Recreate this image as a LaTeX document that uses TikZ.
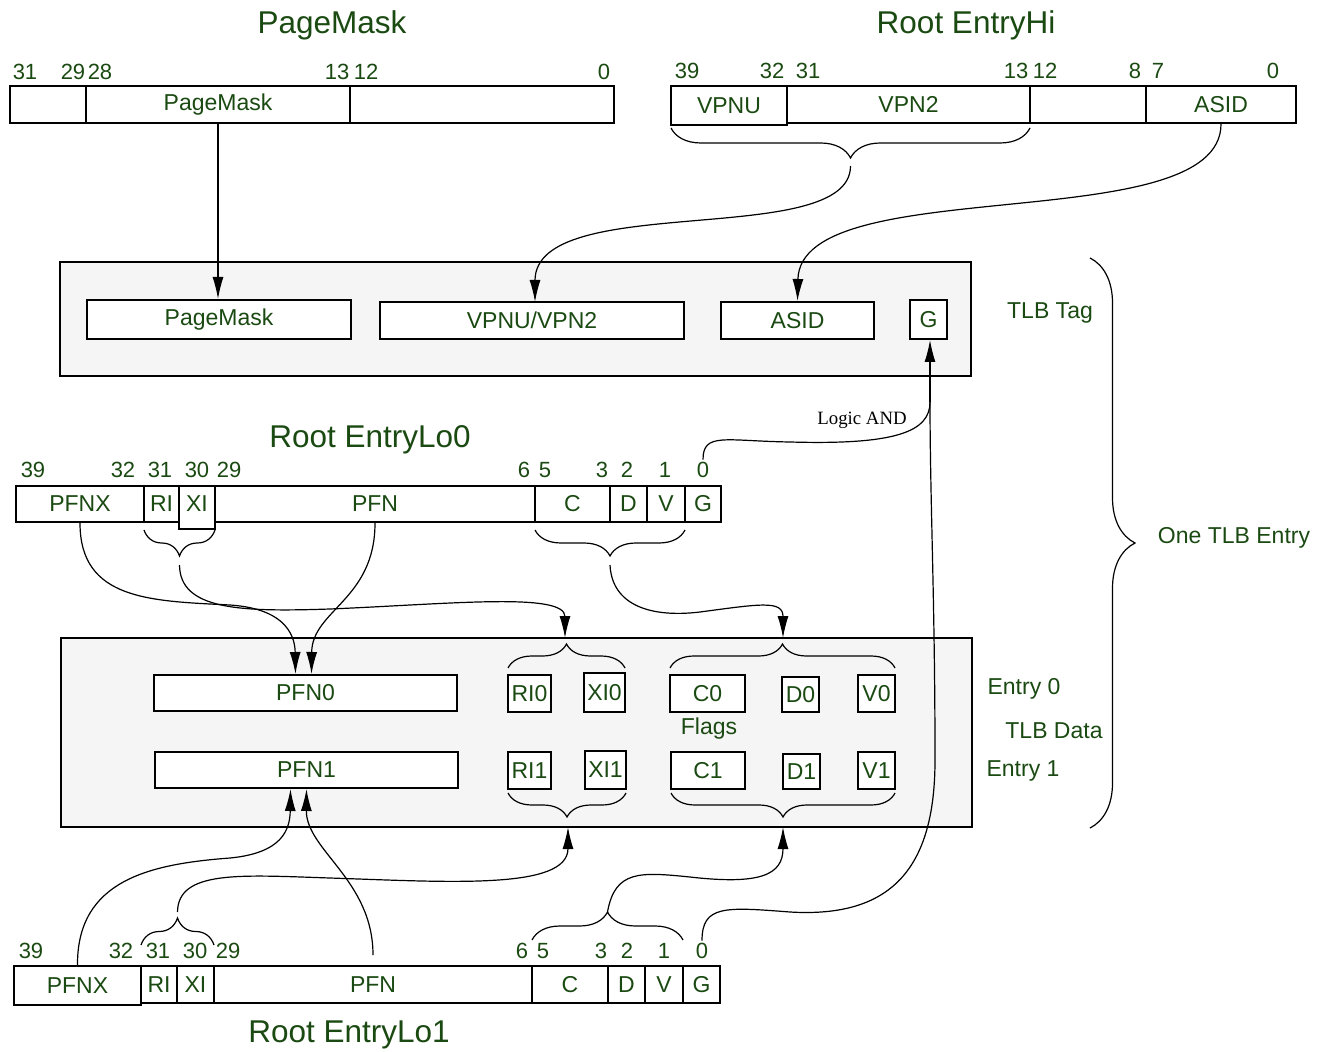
\documentclass[tikz,border=0pt]{standalone}
\usepackage{fontspec}
\setmainfont{Liberation Sans}
\newfontfamily\logicfont{Liberation Serif}
\usepackage{xcolor}
\usepackage{tikz}
\usetikzlibrary{arrows.meta,calc,decorations.pathreplacing}
\definecolor{RegGreen}{HTML}{1A4A12}
\definecolor{PanelGray}{HTML}{F5F5F5}
\newcommand{\labfont}{\fontsize{11.5}{13}\selectfont}
\newcommand{\bitfont}{\fontsize{11}{13}\selectfont}
\newcommand{\titlefont}{\fontsize{15.75}{18}\selectfont}
\tikzset{
  every picture/.style={line width=0.6pt},
  regbox/.style={
    draw=black,
    line width=1pt,
    fill=white,
    inner sep=0pt,
    font=\labfont,
    text=RegGreen
  },
  panel/.style={draw=black, line width=1pt, fill=PanelGray, inner sep=0pt},
  bitlab/.style={font=\bitfont, text=RegGreen, inner sep=1pt},
  sidelab/.style={font=\labfont, text=RegGreen, inner sep=1pt},
  regtitle/.style={font=\titlefont, text=RegGreen, inner sep=1pt},
  logiclab/.style={font=\logicfont\fontsize{9.4}{11}\selectfont, inner sep=1pt},
  curly/.style={decorate, decoration={brace, amplitude=#1}},
  flowarrow/.style={-{Latex[length=11pt,width=5.5pt]}, draw=black},
  flowline/.style={draw=black}
}

\begin{document}
\begin{tikzpicture}[x=0.5pt,y=-0.5pt]
  \useasboundingbox (0,0) rectangle (1325,1052);

  % PageMask register
  \node[regtitle] (pmTitle) at (332,25) {PageMask};
  \foreach \nm/\xa/\ya/\xb/\yb/\txt in {pmHigh/10/86/86/123/{}, pmMask/86/86/350/123/PageMask, pmLow/350/86/614/123/{}}
    \node[regbox, minimum width={(\xb-\xa)*0.5pt}, minimum height={(\yb-\ya)*0.5pt}] (\nm) at ({(\xa+\xb)/2},{(\ya+\yb)/2}) {\txt};
  \foreach \x/\b in {25/31, 73/29, 100/28, 337/13, 366/12, 604/0}
    \node[bitlab] (pmb\b) at (\x,72) {\b};

  % Root EntryHi register
  \node[regtitle] (hiTitle) at (966,25) {Root EntryHi};
  \foreach \nm/\xa/\ya/\xb/\yb/\txt in {hiVpnu/671/86/787/125/VPNU, hiVpn/787/86/1030/123/VPN2, hiGap/1030/86/1146/123/{}, hiAsid/1146/86/1296/123/ASID}
    \node[regbox, minimum width={(\xb-\xa)*0.5pt}, minimum height={(\yb-\ya)*0.5pt}] (\nm) at ({(\xa+\xb)/2},{(\ya+\yb)/2}) {\txt};
  \foreach \x/\b in {687/39, 772/32, 808/31, 1016/13, 1045/12, 1135/8, 1158/7, 1273/0}
    \node[bitlab] (hib\b) at (\x,71) {\b};

  % TLB tag
  \node[panel, minimum width=455.5pt, minimum height=57pt] (tagPanel) at (515.5,319) {};
  \foreach \nm/\xa/\ya/\xb/\yb/\txt in {tagMask/87/300/351/339/PageMask, tagVpn/380/302/684/339/{VPNU/VPN2}, tagAsid/721/302/874/339/ASID, tagG/910/300/947/339/G}
    \node[regbox, minimum width={(\xb-\xa)*0.5pt}, minimum height={(\yb-\ya)*0.5pt}] (\nm) at ({(\xa+\xb)/2},{(\ya+\yb)/2}) {\txt};

  % Root EntryLo0 register
  \node[regtitle] (lo0Title) at (370,440) {Root EntryLo0};
  \foreach \nm/\xa/\ya/\xb/\yb/\txt in {lo0Pfnx/16/486/144/522/PFNX, lo0Ri/144/486/179/522/RI, lo0Pfn/215/486/535/522/PFN, lo0C/535/486/610/522/C, lo0D/610/486/647/522/D, lo0V/647/486/685/522/V, lo0G/685/486/721/522/G}
    \node[regbox, minimum width={(\xb-\xa)*0.5pt}, minimum height={(\yb-\ya)*0.5pt}] (\nm) at ({(\xa+\xb)/2},{(\ya+\yb)/2}) {\txt};
  \node[regbox, minimum width=18pt, minimum height=21.5pt] (lo0Xi) at (197,507.5) {};
  \node[font=\labfont, text=RegGreen, inner sep=0pt] (lo0XiLab) at (197,504) {XI};
  \foreach \x/\b in {33/39, 123/32, 160/31, 197/30, 229/29, 524/6, 545/5, 602/3, 627/2, 665/1, 703/0}
    \node[bitlab] (lo0b\b) at (\x,470) {\b};

  % TLB data
  \node[panel, minimum width=455.5pt, minimum height=94.5pt] (dataPanel) at (516.5,732.5) {};
  \foreach \nm/\xa/\ya/\xb/\yb/\txt in {pfnZero/154/675/457/711/PFN0, riZero/508/675/551/712/RI0, xiZero/584/673/625/712/XI0, cZero/670/675/745/712/C0, dZero/782/677/819/712/D0, vZero/858/675/895/712/V0,
      pfnOne/155/752/458/788/PFN1, riOne/508/752/551/789/RI1, xiOne/585/751/626/789/XI1, cOne/671/752/745/789/C1, dOne/783/754/820/789/D1, vOne/858/752/895/789/V1}
    \node[regbox, minimum width={(\xb-\xa)*0.5pt}, minimum height={(\yb-\ya)*0.5pt}] (\nm) at ({(\xa+\xb)/2},{(\ya+\yb)/2}) {\txt};
  \node[sidelab] (flagsLab) at (709,729) {Flags};

  % Root EntryLo1 register
  \node[regtitle] (lo1Title) at (349,1035) {Root EntryLo1};
  \foreach \nm/\xa/\ya/\xb/\yb/\txt in {lo1Pfnx/14/966/141/1005/PFNX, lo1Ri/141/966/177/1003/RI, lo1Xi/177/966/214/1003/XI, lo1Pfn/214/966/532/1003/PFN, lo1C/532/966/608/1003/C, lo1D/608/966/645/1003/D, lo1V/645/966/683/1003/V, lo1G/683/966/720/1003/G}
    \node[regbox, minimum width={(\xb-\xa)*0.5pt}, minimum height={(\yb-\ya)*0.5pt}] (\nm) at ({(\xa+\xb)/2},{(\ya+\yb)/2}) {\txt};
  \foreach \x/\b in {31/39, 121/32, 158/31, 195/30, 228/29, 522/6, 543/5, 601/3, 627/2, 664/1, 702/0}
    \node[bitlab] (lo1b\b) at (\x,951) {\b};

  % side labels
  \node[sidelab] (tagLab) at (1050,313) {TLB Tag};
  \node[sidelab] (entryZeroLab) at (1024,689) {Entry 0};
  \node[sidelab] (dataLab) at (1054,731) {TLB Data};
  \node[sidelab] (entryOneLab) at (1023,771) {Entry 1};
  \node[sidelab] (entryLab) at (1234,538) {One TLB Entry};
  \node[logiclab] (logicAnd) at (862,420) {Logic AND};

  % braces
  \draw[curly=15pt] (1030,128) -- (671,128);
  \draw[curly=13pt] (215,530) -- (144,530);
  \draw[curly=13pt] (685,530) -- (535,530);
  \draw[curly=12pt] (508,668) -- (625,668);
  \draw[curly=12pt] (670,668) -- (895,668);
  \draw[curly=12pt] (626,793) -- (508,793);
  \draw[curly=12pt] (895,793) -- (671,793);
  \draw[curly=13.5pt] (141,945) -- (214,945);
  \draw[curly=14pt] (532,940) -- (683,940);
  \draw[curly=22.5pt] (1090,258) -- (1090,828);

  \coordinate (hiTip) at (850.5,166);
  \coordinate (lo0RiTip) at (179.5,565);
  \coordinate (lo0FlagTip) at (610,565);
  \coordinate (lo1RiTip) at (177.5,912);
  \coordinate (lo1FlagTip) at (607.5,912);
  \coordinate (andPt) at (930,402);

  % tag connectors
  \draw[flowarrow] (pmMask.south) -- (pmMask.south |- tagMask.north);
  \draw[flowarrow] (hiTip) .. controls (850.5,250) and (535,190) .. (535,302);
  \draw[flowarrow] (hiAsid.south) .. controls (1221,240) and (800,170) .. (tagAsid.north);
  \draw[flowline] (lo0b0.north) .. controls (703,432) and (725,441) .. (790,442) .. controls (895,445) and (930,432) .. (andPt);
  \draw[flowline] (lo1b0.north) .. controls (702,905) and (725,907) .. (790,912) .. controls (890,918) and (935,870) .. (935,760) .. controls (935,600) and (930,500) .. (andPt);
  \draw[flowarrow] (andPt) -- (andPt |- tagG.south);

  % data connectors from EntryLo0
  \draw[flowarrow] (lo0Pfnx.south) .. controls (80,600) and (150,601) .. (230,605) .. controls (290,609) and (295,640) .. ($(pfnZero.north)+(-10,0)$);
  \draw[flowarrow] (lo0Pfn.south) .. controls (375,600) and (312,610) .. ($(pfnZero.north)+(6,0)$);
  \draw[flowarrow] (lo0RiTip) .. controls (180,610) and (240,612) .. (330,609) .. controls (450,604) and (565,592) .. (565,638);
  \draw[flowarrow] (lo0FlagTip) .. controls (612,605) and (650,618) .. (700,612) .. controls (760,604) and (783,600) .. (783,638);

  % data connectors from EntryLo1
  \draw[flowarrow] (lo1Pfnx.north) .. controls (77,880) and (150,864) .. (230,858) .. controls (282,853) and (290,830) .. ($(pfnOne.south)+(-16,0)$);
  \draw[flowarrow] ($(lo1Pfn.north)+(0,-10)$) .. controls (373,880) and (306,850) .. ($(pfnOne.south)+(0,0)$);
  \draw[flowarrow] (lo1RiTip) .. controls (178,870) and (240,875) .. (330,878) .. controls (450,882) and (568,890) .. (568,827);
  \draw[flowarrow] (lo1FlagTip) .. controls (615,870) and (640,872) .. (690,877) .. controls (760,885) and (783,875) .. (783,827);
\end{tikzpicture}
\end{document}
